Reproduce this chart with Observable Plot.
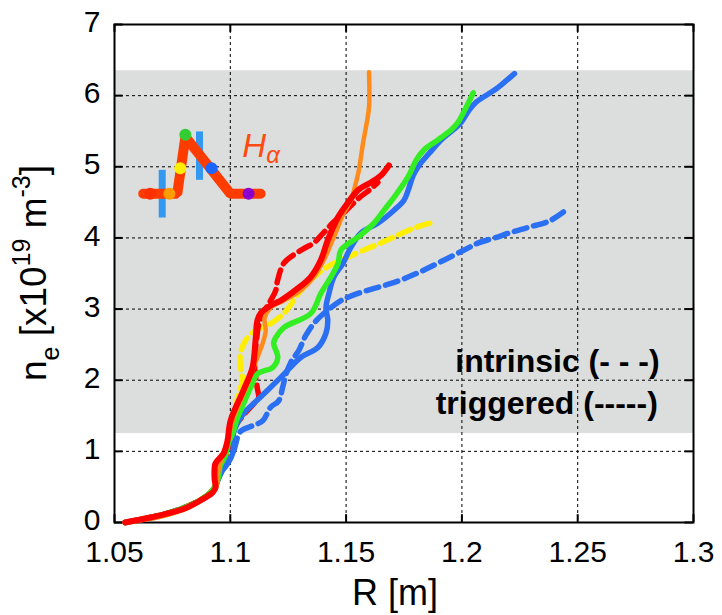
<!DOCTYPE html>
<html><head><meta charset="utf-8">
<script src="https://cdn.jsdelivr.net/npm/d3@7"></script>
<script src="https://cdn.jsdelivr.net/npm/@observablehq/plot@0.6"></script>
<style>
html,body{margin:0;padding:0;background:#fff;}
#chart{width:722px;height:615px;overflow:hidden;}
</style></head><body><div id="chart"></div>
<script>
// ---- axes ----
const xTicks = [1.05, 1.1, 1.15, 1.2, 1.25, 1.3];
const xTickLabels = ["1.05", "1.1", "1.15", "1.2", "1.25", "1.3"];
const yTicks = [0, 1, 2, 3, 4, 5, 6, 7];
const yTickLabels = ["0", "1", "2", "3", "4", "5", "6", "7"];
const xLabel = "R [m]";

// ---- shaded band ----
const bandR = [1.05, 1.3];
const bandNe = [1.25, 6.35];

// ---- triggered (solid) ----
const redSolidR = [1.0546,1.0654,1.0797,1.0871,1.0923,1.0936,1.0932,1.0936,1.0971,1.0988,1.1001,1.1057,1.1096,1.1109,1.1117,1.1131,1.1174,1.1218,1.1291,1.1347,1.1391,1.1421,1.1465,1.1507,1.1551,1.1607,1.1651,1.1685];
const redSolidNe = [0,0.07,0.19,0.31,0.42,0.49,0.62,0.83,0.97,1.15,1.43,1.86,2.18,2.56,2.84,2.94,3.05,3.12,3.29,3.45,3.69,3.97,4.29,4.49,4.67,4.78,4.88,5.02];

const orangeSolidR = [1.0546,1.0697,1.0827,1.0893,1.0936,1.0945,1.0957,1.0988,1.1014,1.1044,1.1075,1.1096,1.1117,1.114,1.1153,1.1148,1.1174,1.1231,1.1304,1.136,1.1404,1.1447,1.149,1.1521,1.1542,1.1555,1.1573,1.1586,1.1599,1.1599];
const orangeSolidNe = [0,0.08,0.22,0.35,0.47,0.66,0.84,1.15,1.47,1.71,1.95,2.14,2.32,2.52,2.70,2.87,3.02,3.12,3.26,3.45,3.69,4.01,4.35,4.53,4.77,4.95,5.33,5.56,5.84,6.33];

const greenSolidR = [1.0546,1.0719,1.0849,1.0914,1.0945,1.0957,1.0979,1.0992,1.101,1.1031,1.1057,1.1088,1.1118,1.1183,1.1205,1.1187,1.1196,1.1231,1.1348,1.1391,1.1434,1.1465,1.1478,1.1551,1.1621,1.1664,1.1707,1.1768,1.1802,1.1837,1.1898,1.1954,1.1984,1.2019,1.2049];
const greenSolidNe = [0,0.12,0.28,0.42,0.59,0.80,0.94,1.12,1.25,1.47,1.67,1.90,2.09,2.18,2.32,2.52,2.60,2.74,2.94,3.22,3.45,3.64,3.83,4.01,4.21,4.39,4.57,4.86,5.09,5.24,5.38,5.52,5.63,5.84,6.04];

const blueSolidR = [1.0546,1.0741,1.0871,1.0927,1.0949,1.0966,1.0988,1.101,1.1014,1.1014,1.1057,1.11,1.1161,1.1218,1.1304,1.1378,1.1413,1.1421,1.1413,1.1426,1.1447,1.1486,1.1521,1.1564,1.1638,1.1707,1.175,1.1768,1.179,1.1815,1.1859,1.1911,1.1963,1.1998,1.2032,1.2062,1.2093,1.2141,1.2184,1.2227];
const blueSolidNe = [0,0.14,0.31,0.45,0.62,0.73,0.83,0.97,1.15,1.26,1.53,1.67,1.86,2.04,2.32,2.46,2.66,2.84,3.02,3.22,3.45,3.64,3.87,4.07,4.21,4.39,4.53,4.67,4.88,5.02,5.19,5.38,5.52,5.63,5.80,5.91,5.98,6.08,6.19,6.31];

// ---- intrinsic (dashed) ----
const redDashR = [1.0546,1.0719,1.0849,1.0914,1.0945,1.0957,1.0988,1.1009,1.1065,1.1096,1.1122,1.1117,1.1109,1.1104,1.1113,1.1122,1.1144,1.1174,1.1196,1.1204,1.123,1.1273,1.1317,1.136,1.1399,1.1442,1.1498,1.1555,1.1607,1.1637];
const redDashNe = [0,0.12,0.28,0.42,0.59,0.80,1.0,1.29,1.54,1.65,1.75,1.88,2.06,2.27,2.55,2.77,2.95,3.12,3.26,3.40,3.64,3.76,3.85,3.93,4.06,4.21,4.38,4.56,4.69,4.78];

const yellowDashR = [1.0546,1.0719,1.0849,1.0914,1.0945,1.0957,1.0992,1.1014,1.1036,1.1053,1.1044,1.1044,1.1066,1.1109,1.1166,1.1231,1.1304,1.1378,1.1434,1.1507,1.1577,1.1651,1.1724,1.1794,1.1876];
const yellowDashNe = [0,0.12,0.28,0.42,0.59,0.80,1.12,1.47,1.81,2.0,2.18,2.38,2.56,2.70,2.78,2.94,3.26,3.50,3.62,3.73,3.83,3.93,4.04,4.14,4.22];

const blueDashR = [1.0546,1.0741,1.0871,1.0927,1.0949,1.0966,1.0988,1.1014,1.1044,1.1096,1.114,1.1174,1.1209,1.1226,1.1239,1.1261,1.1296,1.1326,1.1369,1.1434,1.1478,1.1551,1.1621,1.1694,1.1768,1.1837,1.1924,1.201,1.2071,1.2141,1.2214,1.2288,1.2379,1.2461];
const blueDashNe = [0,0.14,0.31,0.45,0.62,0.73,0.83,1.00,1.28,1.36,1.43,1.62,1.71,1.90,2.07,2.25,2.42,2.63,2.83,3.02,3.12,3.22,3.29,3.36,3.45,3.55,3.69,3.83,3.93,4.00,4.08,4.15,4.24,4.42];

// ---- H-alpha inset ----
const insetLineR = [1.0624, 1.0771, 1.0806, 1.1001, 1.1131];
const insetLineNe = [4.62, 4.62, 5.42, 4.62, 4.62];
const insetDotR = [1.0654, 1.0737, 1.0784, 1.0806, 1.0919, 1.1079];
const insetDotNe = [4.62, 4.62, 4.98, 5.45, 4.98, 4.62];
const insetDotColors = ["#ff3000", "#ff9c00", "#ffee00", "#33cc33", "#1a66ff", "#8a00cc"];
const insetBarR = [1.0706, 1.0867];
const insetBarLo = [4.28, 4.81];
const insetBarHi = [4.95, 5.49];
const hAlphaPos = [1.1054, 5.13];

// ---- annotation text ----
const notes = ["intrinsic (- - -)", "triggered (-----)"];
const notesR = [1.2854, 1.2846];
const notesNe = [2.11, 1.53];

const pts = (R, ne) => R.map((r, i) => ({R: r, ne: ne[i]}));
const bandData = [{x1: bandR[0], x2: bandR[1], y1: bandNe[0], y2: bandNe[1]}];
const dotData = insetDotR.map((r, i) => ({R: r, ne: insetDotNe[i], c: insetDotColors[i]}));
const barData = insetBarR.map((r, i) => ({R: r, lo: insetBarLo[i], hi: insetBarHi[i]}));
const noteData = notes.map((t, i) => ({t, R: notesR[i], ne: notesNe[i]}));

const solid = (R, ne, color, w) => Plot.line(pts(R, ne), {x: "R", y: "ne", stroke: color, strokeWidth: w, curve: "catmull-rom", strokeLinejoin: "round", strokeLinecap: "round"});
const dashed = (R, ne, color, w) => Plot.line(pts(R, ne), {x: "R", y: "ne", stroke: color, strokeWidth: w, curve: "catmull-rom", strokeDasharray: "13,7", strokeLinejoin: "round"});

const font = "'Liberation Sans', Arial, Helvetica, sans-serif";

const chart = Plot.plot({
  width: 722, height: 615,
  marginLeft: 114, marginRight: 29, marginTop: 24, marginBottom: 93,
  style: {fontFamily: font, fontSize: "30px", background: "white", color: "black", overflow: "visible"},
  x: {domain: [1.05, 1.3]},
  y: {domain: [0, 7]},
  marks: [
    Plot.rect(bandData, {x1: "x1", x2: "x2", y1: "y1", y2: "y2", fill: "#dcdddd"}),
    Plot.gridX(xTicks, {stroke: "black", strokeOpacity: 1, strokeWidth: 1, strokeDasharray: "3,3"}),
    Plot.gridY(yTicks, {stroke: "black", strokeOpacity: 1, strokeWidth: 1, strokeDasharray: "3,3"}),
    Plot.ruleY(yTicks, {x1: 1.05, x2: 1.0537, stroke: "black", strokeWidth: 2}),
    Plot.ruleY(yTicks, {x1: 1.2963, x2: 1.3, stroke: "black", strokeWidth: 2}),
    Plot.ruleX(xTicks, {y1: 0, y2: 0.11, stroke: "black", strokeWidth: 2}),
    Plot.ruleX(xTicks, {y1: 6.89, y2: 7, stroke: "black", strokeWidth: 2}),
    Plot.frame({stroke: "black", strokeWidth: 2}),
    Plot.axisX(xTicks, {tickSize: 0, tickPadding: 18, fontSize: 30, label: null, tickFormat: d => xTickLabels[xTicks.indexOf(d)]}),
    Plot.axisY(yTicks, {tickSize: 0, tickPadding: 14, fontSize: 30, label: null, dy: -2, tickFormat: d => yTickLabels[yTicks.indexOf(d)]}),
    // intrinsic (dashed)
    dashed(blueDashR, blueDashNe, "#2b6ff2", 5.5),
    dashed(yellowDashR, yellowDashNe, "#ffee00", 5.5),
    dashed(redDashR, redDashNe, "#ff0000", 5.5),
    // triggered (solid)
    solid(blueSolidR, blueSolidNe, "#2b6ff2", 5.5),
    solid(greenSolidR, greenSolidNe, "#33ee22", 5.5),
    solid(orangeSolidR, orangeSolidNe, "#ff8c1a", 4.5),
    solid(redSolidR, redSolidNe, "#ff0000", 6),
    // inset
    Plot.ruleX(barData, {x: "R", y1: "lo", y2: "hi", stroke: "#3399f0", strokeWidth: 7}),
    Plot.line(pts(insetLineR, insetLineNe), {x: "R", y: "ne", stroke: "#ff3c00", strokeWidth: 10, strokeLinejoin: "miter"}),
    Plot.dot(dotData, {x: "R", y: "ne", r: 6, fill: "c", stroke: null}),
    // notes
    Plot.text(noteData, {x: "R", y: "ne", text: "t", textAnchor: "end", lineAnchor: "bottom", fontSize: 32, fontWeight: "bold", fill: "black"})
  ]
});

document.getElementById("chart").appendChild(chart);

const svg = d3.select(chart);
const xs = chart.scale("x"), ys = chart.scale("y");
const cy = (ys.range[0] + ys.range[1]) / 2;

// y-axis label with sub/superscripts
const yl = svg.append("text")
  .attr("transform", `translate(46,${cy}) rotate(-90)`)
  .attr("text-anchor", "middle")
  .attr("font-family", font).attr("font-size", 37).attr("fill", "black");
yl.append("tspan").text("n");
yl.append("tspan").attr("dy", 13).attr("font-size", 25).text("e");
yl.append("tspan").attr("dy", -13).text(" [x10");
yl.append("tspan").attr("dy", -16).attr("font-size", 25).text("19");
yl.append("tspan").attr("dy", 16).text(" m");
yl.append("tspan").attr("dy", -16).attr("font-size", 25).text("-3");
yl.append("tspan").attr("dy", 16).text("]");

// x-axis label
svg.append("text")
  .attr("x", 395).attr("y", 605)
  .attr("text-anchor", "middle")
  .attr("font-family", font).attr("font-size", 36).attr("fill", "black")
  .text(xLabel);

// H-alpha label
const ha = svg.append("text")
  .attr("x", xs.apply(hAlphaPos[0])).attr("y", ys.apply(hAlphaPos[1]))
  .attr("text-anchor", "start")
  .attr("font-family", font).attr("font-style", "italic").attr("font-size", 33).attr("fill", "#ff4a10");
ha.append("tspan").text("H");
ha.append("tspan").attr("dy", 6).attr("font-size", 24).text("α");
</script>
</body></html>
